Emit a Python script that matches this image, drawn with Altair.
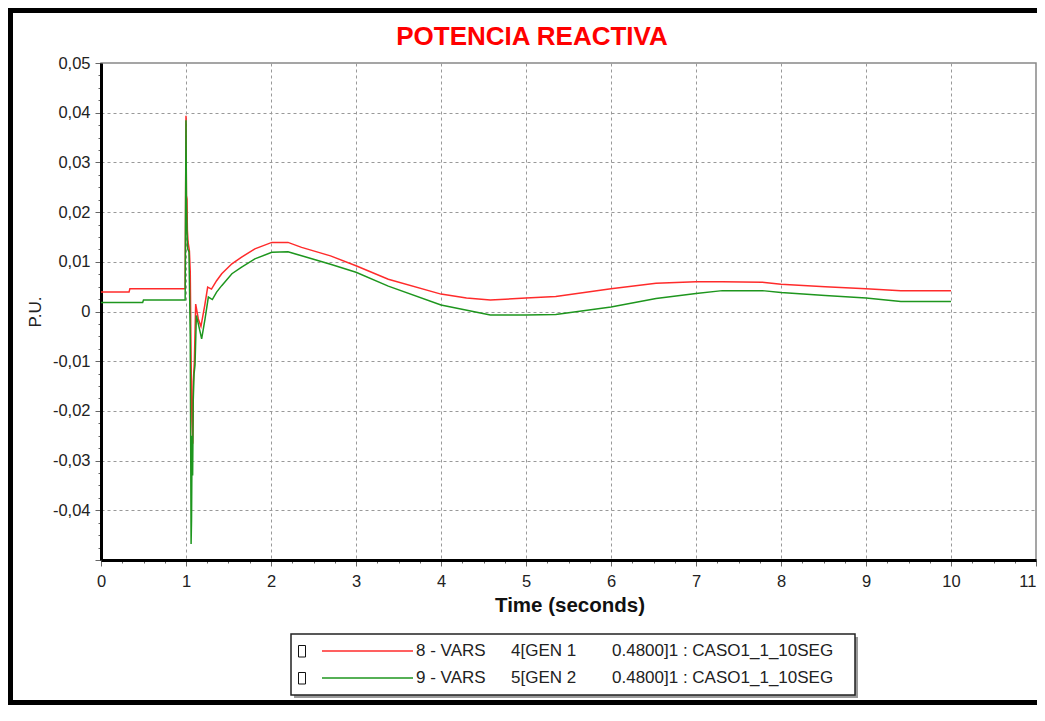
import altair as alt
import pandas as pd

# ---------------- data ----------------
title_text = "POTENCIA REACTIVA"
x_title = "Time (seconds)"
y_title = "P.U."

series_names = ["8 - VARS 4[GEN 1", "9 - VARS 5[GEN 2"]
series_colors = ["#ff2b2b", "#1e961e"]

legend_col1 = ["8 - VARS", "9 - VARS"]
legend_col2 = ["4[GEN 1", "5[GEN 2"]
legend_col3 = ["0.4800]1 : CASO1_1_10SEG", "0.4800]1 : CASO1_1_10SEG"]

red_t = [0.00, 0.33, 0.34, 0.99, 1.00, 1.005, 1.012, 1.016, 1.024, 1.04, 1.05,
         1.06, 1.07, 1.08, 1.086, 1.098, 1.114, 1.13, 1.145, 1.176, 1.22, 1.255,
         1.30, 1.36, 1.42, 1.54, 1.65, 1.81, 2.01, 2.20, 2.36, 2.56, 2.70, 3.00,
         3.38, 4.00, 4.30, 4.58, 5.00, 5.35, 6.00, 6.53, 7.00, 7.31, 7.78, 8.00,
         8.52, 9.00, 9.41, 10.00]
red_v = [0.0039, 0.0039, 0.0046, 0.0046, 0.0394, 0.0233, 0.0226, 0.0165, 0.0140, 0.0122, 0.0080,
         -0.0100, -0.0222, -0.0266, -0.0142, -0.0102, 0.0015, -0.0001, -0.0015, -0.0030, 0.0012, 0.0049,
         0.0045, 0.0062, 0.0076, 0.0096, 0.0109, 0.0126, 0.0139, 0.0139, 0.0129, 0.0119, 0.0112, 0.0092,
         0.0065, 0.0035, 0.0027, 0.0023, 0.0027, 0.0030, 0.0046, 0.0057, 0.0060, 0.0060, 0.0059, 0.0055,
         0.0050, 0.0046, 0.0042, 0.0042]

green_t = [0.00, 0.49, 0.50, 0.99, 1.00, 1.005, 1.012, 1.02, 1.035, 1.05, 1.06,
           1.065, 1.072, 1.078, 1.085, 1.095, 1.106, 1.122, 1.145, 1.184, 1.224, 1.263,
           1.31, 1.36, 1.42, 1.54, 1.65, 1.81, 2.01, 2.20, 2.36, 2.56, 2.70, 3.00,
           3.38, 4.00, 4.58, 5.00, 5.35, 6.00, 6.53, 7.00, 7.31, 7.78, 8.00,
           8.52, 9.00, 9.41, 10.00]
green_v = [0.0018, 0.0018, 0.0023, 0.0023, 0.0385, 0.0226, 0.0159, 0.0126, 0.0120, -0.0050, -0.0468,
           -0.0420, -0.0250, -0.0330, -0.0180, -0.0125, -0.0108, -0.0008, -0.0025, -0.0055, -0.0015, 0.0029,
           0.0024, 0.0039, 0.0052, 0.0076, 0.0089, 0.0106, 0.0119, 0.0120, 0.0112, 0.0102, 0.0095, 0.0079,
           0.0051, 0.0013, -0.0007, -0.0007, -0.0006, 0.0009, 0.0026, 0.0036, 0.0042, 0.0042, 0.0038,
           0.0032, 0.0027, 0.0020, 0.0020]

# ---------------- build tables ----------------
rows = []
for name, ts, vs in [(series_names[0], red_t, red_v), (series_names[1], green_t, green_v)]:
    for i, (t, v) in enumerate(zip(ts, vs)):
        rows.append({"series": name, "t": t, "v": v, "i": i})
df = pd.DataFrame(rows)

x_ticks = [i * 0.25 for i in range(45)]
y_ticks = [round(-0.05 + i * 0.0025, 4) for i in range(41)]

FONT = "Liberation Sans"
major_x = "datum.value % 1 == 0"
major_y = "abs(datum.value*100 - round(datum.value*100)) < 0.001"

x_axis = alt.Axis(
    values=x_ticks, title=None,
    labelExpr=f"({major_x}) ? format(datum.value, 'd') : ''",
    labelFont=FONT, labelFontSize=16.5, labelColor="#222", labelPadding=7,
    labelOverlap=False, labelFlush=False,
    labelAlign={"condition": {"test": "datum.value > 10.5", "value": "right"}, "value": "center"},
    domainColor="black", domainWidth=3,
    tickColor="#666", tickWidth=1,
    tickSize={"condition": {"test": major_x, "value": 6}, "value": 3},
    grid=True, gridDash=[3, 3], gridColor="#999", gridWidth=1,
    gridOpacity={"condition": {"test": f"({major_x}) && datum.value > 0 && datum.value < 11", "value": 1}, "value": 0},
)
y_axis = alt.Axis(
    values=y_ticks, title=None,
    labelExpr=(f"(({major_y}) && datum.value > -0.045) ? (abs(datum.value) < 0.0001 ? '0' : "
               "replace(replace(format(datum.value, '.2f'), '.', ','), '\u2212', '-')) : ''"),
    labelFont=FONT, labelFontSize=16.5, labelColor="#222", labelPadding=5,
    labelOverlap=False, labelFlush=False,
    domainColor="black", domainWidth=3,
    tickColor="#666", tickWidth=1,
    tickSize={"condition": {"test": major_y, "value": 6}, "value": 3},
    grid=True, gridDash=[3, 3], gridColor="#999", gridWidth=1,
    gridOpacity={"condition": {"test": f"({major_y}) && abs(datum.value) < 0.045", "value": 1}, "value": 0},
)

lines = alt.Chart(df).mark_line(strokeWidth=1.5).encode(
    x=alt.X("t:Q", scale=alt.Scale(domain=[0, 11], nice=False, zero=False), axis=x_axis),
    y=alt.Y("v:Q", scale=alt.Scale(domain=[-0.05, 0.05], nice=False, zero=False), axis=y_axis),
    color=alt.Color("series:N", scale=alt.Scale(domain=series_names, range=series_colors), legend=None),
    order="i:Q",
)

one = pd.DataFrame({"k": [0]})

frame = alt.Chart(one).mark_rect(filled=False, stroke="black", strokeWidth=5).encode(
    x=alt.value(-90.5), x2=alt.value(960), y=alt.value(-52.5), y2=alt.value(639.5)
)

title = alt.Chart(pd.DataFrame({"txt": [title_text]})).mark_text(
    font=FONT, fontSize=26, fontWeight="bold", color="#ff0000", align="center", baseline="alphabetic"
).encode(x=alt.value(431), y=alt.value(-18.5), text="txt:N")

xt = alt.Chart(pd.DataFrame({"txt": [x_title]})).mark_text(
    font=FONT, fontSize=20.5, fontWeight="bold", color="#111", align="center", baseline="alphabetic"
).encode(x=alt.value(469), y=alt.value(549), text="txt:N")

yt = alt.Chart(pd.DataFrame({"txt": [y_title]})).mark_text(
    font=FONT, fontSize=17, color="#222", align="center", baseline="middle", angle=270
).encode(x=alt.value(-65), y=alt.value(249), text="txt:N")

box_top, box_bot = 571, 632
shadow = alt.Chart(one).mark_rect(fill="#9a9a9a").encode(
    x=alt.value(193), x2=alt.value(757), y=alt.value(box_top + 3), y2=alt.value(box_bot + 3)
)
box = alt.Chart(one).mark_rect(fill="white", stroke="#222", strokeWidth=1.5).encode(
    x=alt.value(190), x2=alt.value(754), y=alt.value(box_top), y2=alt.value(box_bot)
)

legend_layers = []
row_y = [box_top + 17, box_top + 44]
for r in range(2):
    ld = pd.DataFrame({"c1": [legend_col1[r]], "c2": [legend_col2[r]], "c3": [legend_col3[r]]})
    yy = row_y[r]
    legend_layers.append(alt.Chart(ld).mark_rect(filled=False, stroke="#111", strokeWidth=1).encode(
        x=alt.value(197.5), x2=alt.value(204.5), y=alt.value(yy - 5.5), y2=alt.value(yy + 6)))
    legend_layers.append(alt.Chart(ld).mark_rule(strokeWidth=1.6, color=series_colors[r]).encode(
        x=alt.value(221), x2=alt.value(312), y=alt.value(yy)))
    for col, xx in [("c1", 315), ("c2", 410), ("c3", 511)]:
        legend_layers.append(alt.Chart(ld).mark_text(
            font=FONT, fontSize=17, color="#222", align="left", baseline="middle"
        ).encode(x=alt.value(xx), y=alt.value(yy), text=f"{col}:N"))

chart = alt.layer(lines, frame, title, xt, yt, shadow, box, *legend_layers).properties(
    width=935, height=497,
    autosize=alt.AutoSizeParams(type="none"),
    padding={"left": 93, "top": 55, "right": 1, "bottom": 145},
    background="white",
).configure_view(stroke="#888", strokeWidth=1.5)

chart.save("out.html", embed_options={"renderer": "svg", "actions": False})
